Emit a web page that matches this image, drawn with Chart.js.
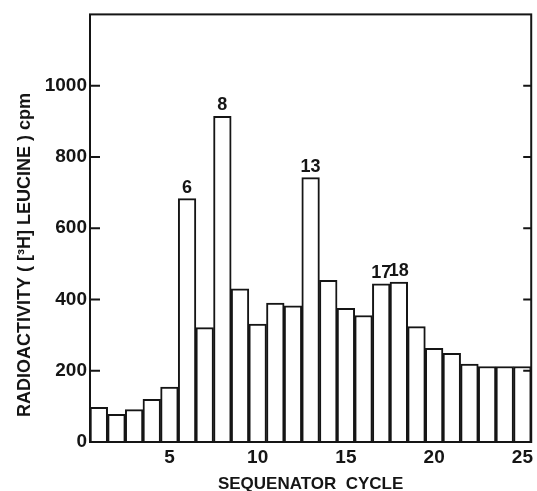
<!DOCTYPE html>
<html lang="en">
<head>
  <meta charset="UTF-8">
  <title>Sequenator cycle radioactivity</title>
  <script src="https://cdn.jsdelivr.net/npm/chart.js"></script>
  <style>
    html, body { margin: 0; padding: 0; background: #fff; }
    #wrap { width: 537px; height: 491px; }
  </style>
</head>
<body>
  <div id="wrap"><canvas id="chart"></canvas></div>

  <script>
    // data
    const cycles = ['1', '2', '3', '4', '5', '6', '7', '8', '9', '10', '11', '12', '13',
                    '14', '15', '16', '17', '18', '19', '20', '21', '22', '23', '24', '25'];
    const counts = [97, 78, 91, 120, 154, 683, 321, 914, 430, 331, 390, 382, 742,
                    454, 375, 355, 444, 449, 324, 263, 249, 219, 212, 212, 212];
    const peakCycles = ['6', '8', '13', '17', '18'];
    const yTicks = [0, 200, 400, 600, 800, 1000];
    const xTickShown = ['5', '10', '15', '20', '25'];

    const ink = '#151515';
    const font = 'Liberation Sans, Arial, sans-serif';

    // frame, inward ticks, peak numbers, y title
    const extras = {
      id: 'extras',
      afterDraw(chart) {
        const ctx = chart.ctx;
        const a = chart.chartArea;
        const x = chart.scales.x;
        const y = chart.scales.y;
        ctx.save();
        ctx.strokeStyle = ink;
        ctx.lineWidth = 2;
        ctx.strokeRect(a.left, a.top, a.right - a.left, a.bottom - a.top);

        ctx.beginPath();
        yTicks.forEach(v => {
          const py = y.getPixelForValue(v);
          ctx.moveTo(a.left, py); ctx.lineTo(a.left + 10, py);
          ctx.moveTo(a.right, py); ctx.lineTo(a.right - 8, py);
        });
        ctx.stroke();

        ctx.fillStyle = ink;
        ctx.font = 'bold 18px ' + font;
        ctx.textAlign = 'center';
        ctx.textBaseline = 'alphabetic';
        peakCycles.forEach(c => {
          const i = cycles.indexOf(c);
          ctx.fillText(c, x.getPixelForValue(i), y.getPixelForValue(counts[i]) - 6);
        });

        ctx.translate(a.left - 65, a.bottom - 187);
        ctx.rotate(-Math.PI / 2);
        ctx.font = 'bold 18px ' + font;
        ctx.textBaseline = 'middle';
        ctx.fillText('RADIOACTIVITY ( [³H] LEUCINE ) cpm', 0, 0);
        ctx.restore();
      }
    };

    new Chart(document.getElementById('chart'), {
      type: 'bar',
      data: {
        labels: cycles,
        datasets: [{
          data: counts,
          backgroundColor: '#ffffff',
          borderColor: ink,
          borderWidth: 2,
          barPercentage: 1,
          categoryPercentage: 1
        }]
      },
      options: {
        responsive: true,
        maintainAspectRatio: false,
        animation: false,
        layout: { padding: { top: 12, right: 2, left: 0, bottom: 0 } },
        plugins: {
          legend: { display: false },
          tooltip: { enabled: false }
        },
        scales: {
          x: {
            grid: { display: false, drawTicks: false },
            border: { display: false },
            ticks: {
              autoSkip: false,
              maxRotation: 0,
              padding: 4,
              color: ink,
              font: { family: font, size: 19, weight: 'bold' },
              callback: function (v) {
                const l = this.getLabelForValue(v);
                return xTickShown.includes(l) ? l : '';
              }
            },
            title: {
              display: true,
              text: 'SEQUENATOR  CYCLE',
              color: ink,
              font: { family: font, size: 17, weight: 'bold' },
              padding: { top: 0, bottom: -4 }
            },
            afterFit: s => { s.height = 49; }
          },
          y: {
            min: 0,
            max: 1200,
            grid: { display: false, drawTicks: false },
            border: { display: false },
            ticks: {
              stepSize: 200,
              padding: 3,
              color: ink,
              font: { family: font, size: 19, weight: 'bold' },
              callback: v => yTicks.includes(v) ? v : ''
            },
            afterFit: s => { s.width = 90; }
          }
        }
      },
      plugins: [extras]
    });
  </script>
</body>
</html>
